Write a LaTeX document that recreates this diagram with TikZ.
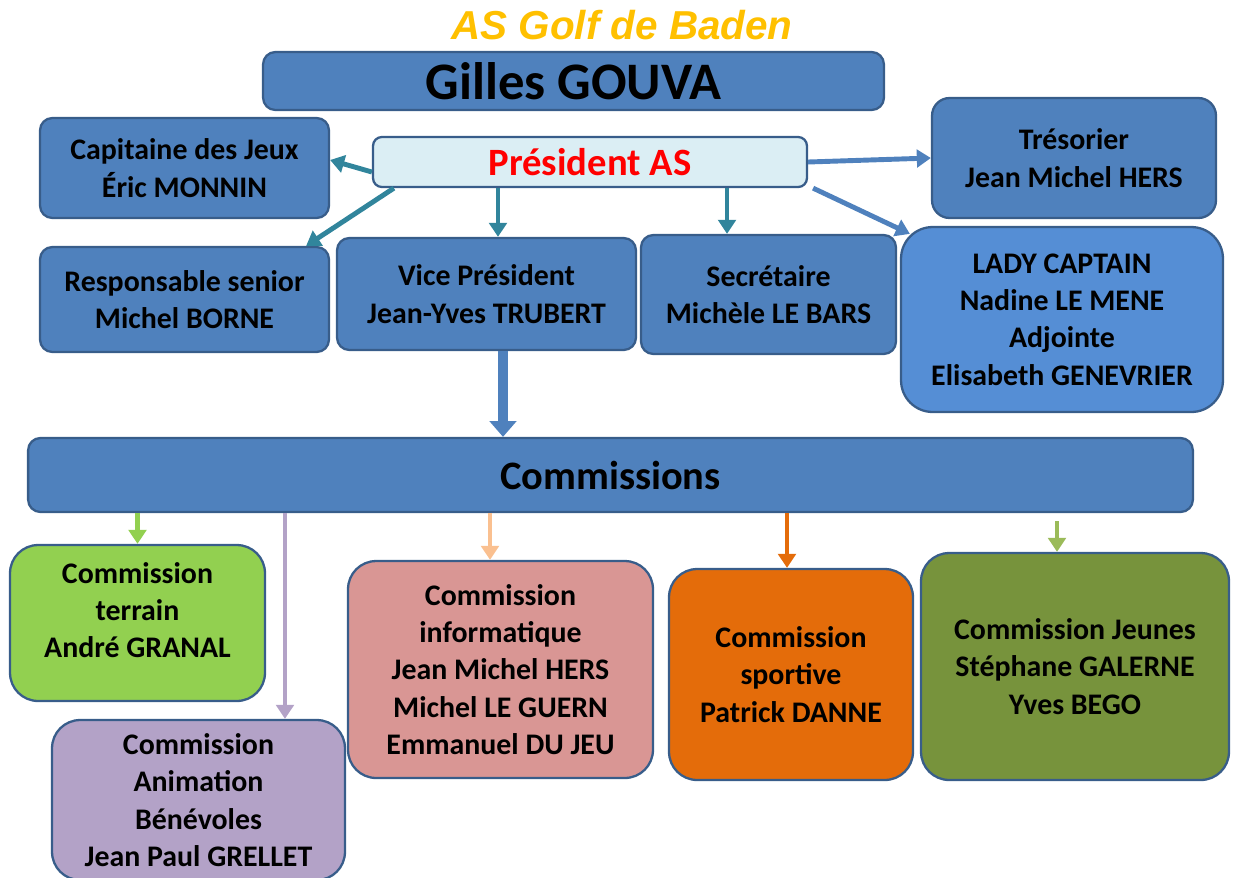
\documentclass[tikz,border=0pt]{standalone}
\usepackage{fontspec}
\setmainfont{Carlito}
\newfontfamily\titrefont{Liberation Sans}
\usepackage{tikz}
\usetikzlibrary{arrows.meta}
\usetikzlibrary{calc}

\definecolor{bleubox}{HTML}{4F81BD}
\definecolor{bordbox}{HTML}{385D8A}
\definecolor{bleupres}{HTML}{DBEEF4}
\definecolor{bleulady}{HTML}{558ED5}
\definecolor{sarcelle}{HTML}{31859C}
\definecolor{orangetitre}{HTML}{FFC000}
\definecolor{vertterrain}{HTML}{92D050}
\definecolor{mauve}{HTML}{B3A2C7}
\definecolor{rose}{HTML}{D99694}
\definecolor{peche}{HTML}{FAC090}
\definecolor{orangesport}{HTML}{E46C0A}
\definecolor{olive}{HTML}{77933C}
\definecolor{olivefleche}{HTML}{9BBB59}

\begin{document}
\begin{tikzpicture}[
            x=0.02cm, y=-0.02cm,
            boite/.style={draw=bordbox, line width=1.3pt, fill=bleubox, rounded corners=7pt,
                inner sep=0pt, align=center, font=\fontsize{17}{21.3}\selectfont\bfseries},
            grande/.style={boite, font=\fontsize{23}{28}\selectfont\bfseries},
            commission/.style={boite, rounded corners=16pt},
            lien/.style={line width=2.8pt, -{Triangle[length=8pt,width=10pt]}},
        ]
            \useasboundingbox (0,0) rectangle (1237,877);

            % --- Titre ---
            \node[orangetitre, font=\titrefont\fontsize{23}{28}\selectfont\bfseries\itshape] (titre) at (622,25) {AS Golf de Baden};

            % --- Bureau ---
            \node[boite, minimum width=12.42cm, minimum height=1.16cm, font=\fontsize{30}{36}\selectfont\bfseries] (gouva) at (573.5,81) {Gilles GOUVA};
            \node[boite, fill=bleupres, minimum width=8.68cm, minimum height=1cm, rounded corners=5pt, text=red, font=\fontsize{22}{26}\selectfont\bfseries] (pres) at (590,162) {Président AS};
            \node[boite, minimum width=5.78cm, minimum height=2cm] (capit) at (184.5,168) {Capitaine des Jeux\\Éric MONNIN};
            \node[boite, minimum width=5.68cm, minimum height=2.4cm, rounded corners=10pt] (treso) at (1074,158) {Trésorier\\Jean Michel HERS};
            \node[boite, minimum width=5.78cm, minimum height=2.1cm] (senior) at (184.5,299.5) {Responsable senior\\Michel BORNE};
            \node[boite, minimum width=5.98cm, minimum height=2.24cm] (vice) at (486.5,294) {Vice Président\\Jean-Yves TRUBERT};
            \node[boite, minimum width=5.1cm, minimum height=2.38cm] (secr) at (768.5,294.5) {Secrétaire\\Michèle LE BARS};
            \node[boite, fill=bleulady, minimum width=6.44cm, minimum height=3.7cm, rounded corners=18pt] (lady) at (1062,319.5) {LADY CAPTAIN\\Nadine LE MENE\\Adjointe\\Elisabeth GENEVRIER};

            % --- Commissions ---
            \node[grande, minimum width=23.3cm, minimum height=1.48cm] (comm) at (610.5,475) {Commissions};
            \node[commission, fill=vertterrain, minimum width=5.1cm, minimum height=3.12cm] (terrain) at (137.5,623) {Commission\\terrain\\André GRANAL\\[-6.5pt]};
            \node[commission, fill=mauve, minimum width=5.86cm, minimum height=3.2cm] (anim) at (198.5,800) {Commission\\Animation\\Bénévoles\\Jean Paul GRELLET};
            \node[commission, fill=rose, minimum width=6.1cm, minimum height=4.34cm] (info) at (500.5,669.5) {Commission\\informatique\\Jean Michel HERS\\Michel LE GUERN\\Emmanuel DU JEU};
            \node[commission, fill=orangesport, minimum width=4.88cm, minimum height=4.22cm] (sport) at (791,674.5) {Commission\\sportive\\Patrick DANNE};
            \node[commission, fill=olive, minimum width=6.16cm, minimum height=4.54cm] (jeunes) at (1075,666.5) {Commission Jeunes\\Stéphane GALERNE\\Yves BEGO};

            % --- Flèches du président ---
            \draw[lien, sarcelle] ([yshift=-0.2cm]pres.west) -- ([yshift=0.16cm]capit.east);
            \draw[lien, sarcelle] ([xshift=0.44cm]pres.south west) -- ([xshift=-0.48cm]senior.north east);
            \draw[lien, sarcelle] ([xshift=0.23cm]vice.north |- pres.south) -- ([xshift=0.23cm]vice.north);
            \draw[lien, sarcelle] ([xshift=-0.83cm]secr.north |- pres.south) -- ([xshift=-0.83cm]secr.north);
            \draw[lien, bleubox] (pres.east) -- (treso.west);
            \draw[lien, bleubox] ([xshift=0.1cm]pres.south east) -- ([shift={(0.2cm,-0.16cm)}]lady.north west);

            % --- Vice président vers commissions ---
            \draw[bleubox, line width=5.6pt, -{Triangle[length=9pt,width=15pt]}] ([xshift=0.33cm]vice.south) -- ([xshift=0.33cm]vice.south |- comm.north);

            % --- Flèches des commissions ---
            \draw[lien, vertterrain] (comm.south -| terrain.north) -- (terrain.north);
            \draw[lien, mauve] ([xshift=1.73cm]anim.north |- comm.south) -- ([xshift=1.73cm]anim.north);
            \draw[lien, peche] ([xshift=-0.21cm]info.north |- comm.south) -- ([xshift=-0.21cm]info.north);
            \draw[lien, orangesport] ([xshift=-0.08cm]sport.north |- comm.south) -- ([xshift=-0.08cm]sport.north);
            \draw[lien, olivefleche] ([shift={(-0.36cm,-0.16cm)}]jeunes.north |- comm.south) -- ([xshift=-0.36cm]jeunes.north);
        \end{tikzpicture}
\end{document}
